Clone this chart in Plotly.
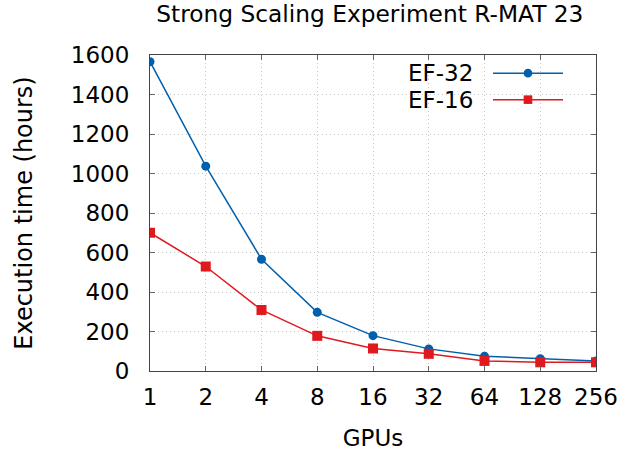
import plotly.graph_objects as go

# Strong scaling results for R-MAT scale 23
gpus = [1, 2, 4, 8, 16, 32, 64, 128, 256]
ef32_hours = [1566, 1037, 566, 297, 179, 112, 75, 62, 51]
ef16_hours = [700, 529, 309, 178, 114, 87, 51, 44, 44]
y_ticks = [0, 200, 400, 600, 800, 1000, 1200, 1400, 1600]

series_names = ["EF-32", "EF-16"]
colors = ["#0060ad", "#e0191f"]
symbols = ["circle", "square"]

FONT = "DejaVu Sans"
TICK_SIZE = 23
LABEL_SIZE = 23

fig = go.Figure()
for name, vals, col, sym, msize in zip(series_names, [ef32_hours, ef16_hours],
                                        colors, symbols, [9, 10]):
    fig.add_trace(go.Scatter(
        x=gpus, y=vals, mode="lines+markers", name=name,
        line=dict(color=col, width=1.5),
        marker=dict(symbol=sym, size=msize, color=col),
        showlegend=False,
    ))

axis_common = dict(
    showline=True, linecolor="#444444", linewidth=1.2, mirror="ticks",
    ticks="inside", ticklen=5, tickcolor="#666666",
    showgrid=True, gridcolor="#c4c4c4", griddash="1px,3px", gridwidth=1,
    zeroline=False, automargin=False,
    tickfont=dict(family=FONT, size=TICK_SIZE, color="black"),
)

fig.update_xaxes(
    type="log", tickvals=gpus, ticktext=[str(g) for g in gpus],
    range=[0, 2.40824],
    title=dict(text="GPUs", font=dict(family=FONT, size=LABEL_SIZE, color="black"), standoff=21),
    ticklabelstandoff=5,
    **axis_common,
)
fig.update_yaxes(
    range=[0, 1600], tickvals=y_ticks,
    title=dict(text="Execution time (hours)", font=dict(family=FONT, size=24, color="black"), standoff=31),
    ticklabelstandoff=15,
    **axis_common,
)

# Key in the top-right corner: label on the left, line sample with marker on the right
legend_rows = [0.9426, 0.8587]
for name, col, sym, yy in zip(series_names, colors, symbols, legend_rows):
    fig.add_annotation(
        x=0.7287, y=yy, xref="paper", yref="paper", xanchor="right", yanchor="middle",
        text=name, showarrow=False, font=dict(family=FONT, size=LABEL_SIZE, color="black"),
    )
    fig.add_shape(type="line", xref="paper", yref="paper",
                  x0=0.769, x1=0.926, y0=yy, y1=yy, line=dict(color=col, width=1.5))
    cx, cy = 0.8475, yy
    dx, dy = 4.3 / 446, 4.3 / 317
    fig.add_shape(type="circle" if sym == "circle" else "rect",
                  xref="paper", yref="paper",
                  x0=cx - dx, x1=cx + dx, y0=cy - dy, y1=cy + dy,
                  fillcolor=col, line=dict(color=col, width=0))

fig.update_layout(
    width=619, height=451,
    margin=dict(l=150, r=23, t=55, b=79.5),
    paper_bgcolor="white", plot_bgcolor="white",
    title=dict(text="Strong Scaling Experiment R-MAT 23", x=0.5975, xanchor="center",
               y=0.969, yanchor="middle", font=dict(family=FONT, size=23.3, color="black")),
)

fig.write_html("out.html")
